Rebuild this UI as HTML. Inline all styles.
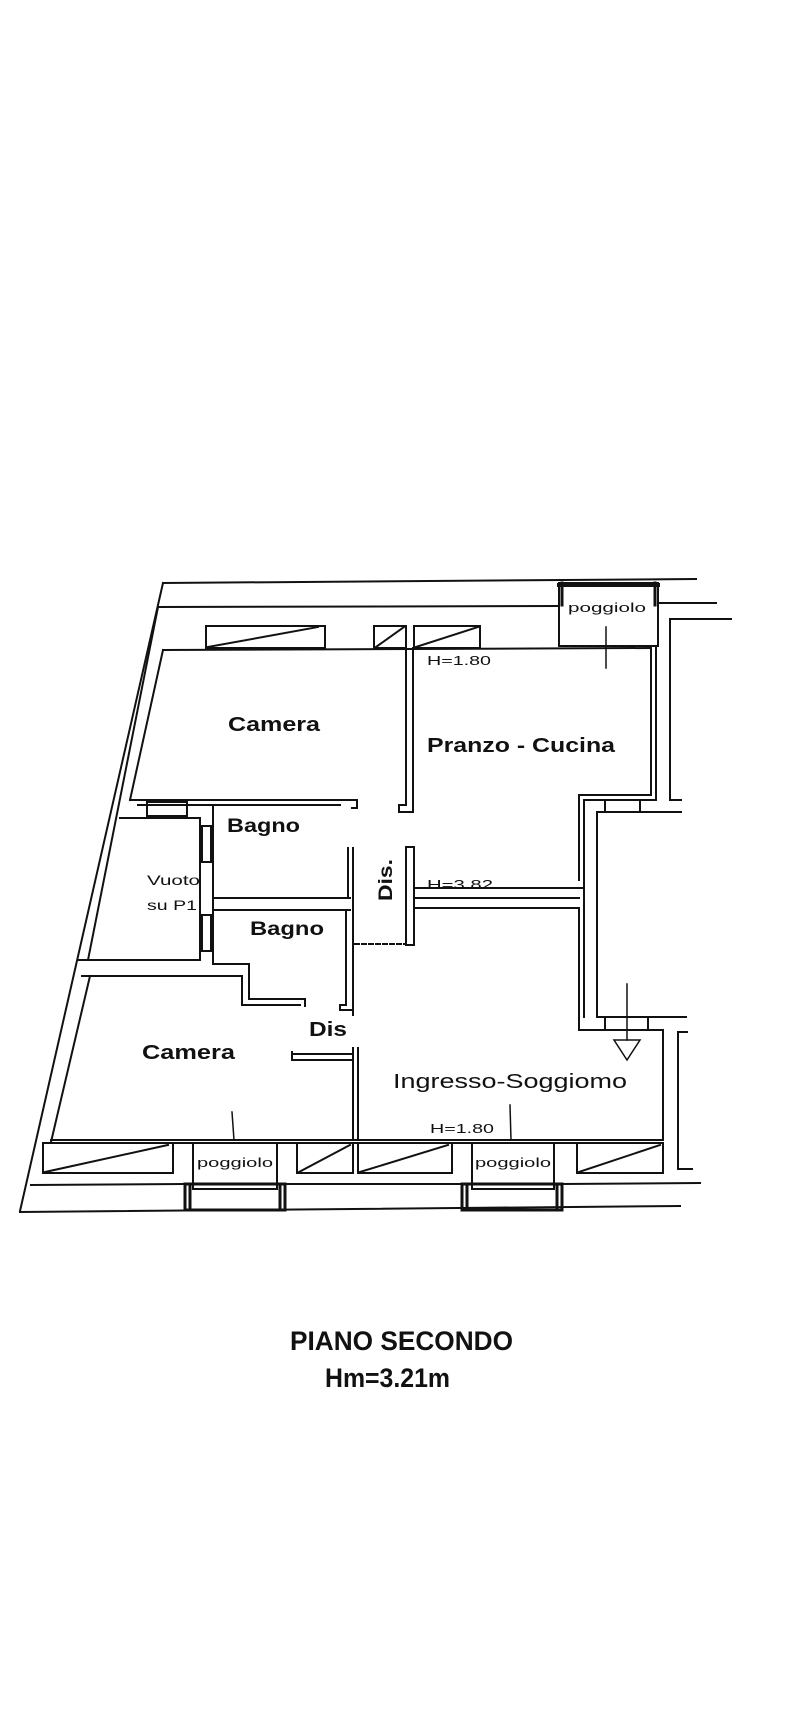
<!DOCTYPE html>
<html><head><meta charset="utf-8"><style>
html,body{margin:0;padding:0;background:#fff;}
svg{display:block;}
text{font-family:"Liberation Sans",Arial,sans-serif;fill:#111;}
</style></head><body>
<svg width="792" height="1717" viewBox="0 0 792 1717" xmlns="http://www.w3.org/2000/svg">
<g stroke="#111" stroke-width="2" fill="none" stroke-linecap="square">
<!-- top outer lines -->
<line x1="163" y1="583" x2="696" y2="579"/>
<line x1="158" y1="607" x2="559" y2="606"/>
<line x1="658" y1="603" x2="716" y2="603"/>
<!-- poggiolo top -->
<rect x="559" y="583" width="99" height="63"/>
<line x1="559" y1="585" x2="658" y2="585" stroke-width="4"/>
<line x1="562" y1="583" x2="562" y2="605" stroke-width="3"/>
<line x1="655" y1="583" x2="655" y2="605" stroke-width="3"/>
<line x1="606" y1="627" x2="606" y2="668" stroke-width="1.5"/>
<!-- right outer -->
<polyline points="731,619 670,619 670,800 681,800"/>
<!-- left wall -->
<line x1="163" y1="583" x2="20" y2="1211"/>
<line x1="158" y1="607" x2="88" y2="960"/>
<!-- top windows -->
<rect x="206" y="626" width="119" height="22"/>
<line x1="208" y1="647" x2="318" y2="627"/>
<rect x="374" y="626" width="32" height="22"/>
<line x1="376" y1="647" x2="404" y2="627"/>
<rect x="414" y="626" width="66" height="22"/>
<line x1="416" y1="647" x2="478" y2="627"/>
<!-- room top line -->
<line x1="163" y1="650" x2="651" y2="648"/>
<line x1="163" y1="650" x2="130" y2="800"/>
<!-- camera bottom wall -->
<polyline points="130,800 357,800 357,808 352,808"/>
<line x1="138" y1="805" x2="340" y2="805"/>
<!-- camera/pranzo partition -->
<line x1="406" y1="648" x2="406" y2="805"/>
<line x1="413" y1="648" x2="413" y2="812"/>
<polyline points="406,805 399,805 399,812 413,812"/>
<!-- pranzo right wall -->
<line x1="651" y1="648" x2="651" y2="795"/>
<line x1="656" y1="648" x2="656" y2="800"/>
<polyline points="656,800 584,800 584,895"/>
<polyline points="651,795 579,795 579,880"/>
<line x1="605" y1="800" x2="605" y2="812"/>
<line x1="640" y1="800" x2="640" y2="812"/>
<!-- right column -->
<polyline points="681,812 597,812 597,1017 686,1017"/>
<!-- Vuoto / Bagno1 -->
<line x1="120" y1="818" x2="200" y2="818"/>
<rect x="147" y="802" width="40" height="14"/>
<line x1="200" y1="818" x2="200" y2="960"/>
<line x1="213" y1="805" x2="213" y2="964"/>
<rect x="202" y="826" width="9" height="36"/>
<rect x="202" y="915" width="9" height="36"/>
<line x1="78" y1="960" x2="200" y2="960"/>
<line x1="213" y1="898" x2="350" y2="898"/>
<line x1="213" y1="910" x2="350" y2="910"/>
<!-- partition bagno/dis -->
<line x1="348" y1="848" x2="348" y2="898"/>
<line x1="353" y1="848" x2="353" y2="1015"/>
<line x1="346" y1="910" x2="346" y2="1005"/>
<polyline points="346,1005 340,1005 340,1010 353,1010"/>
<!-- Dis partition -->
<rect x="406" y="847" width="8" height="98"/>
<line x1="355" y1="944" x2="406" y2="944" stroke-dasharray="4,3"/>
<line x1="414" y1="888" x2="584" y2="888"/>
<line x1="414" y1="898" x2="579" y2="898"/>
<line x1="414" y1="908" x2="579" y2="908"/>
<!-- ingresso right -->
<line x1="579" y1="908" x2="579" y2="1030"/>
<polyline points="584,895 584,1017"/>
<polyline points="579,1030 663,1030 663,1140"/>
<line x1="605" y1="1017" x2="605" y2="1030"/>
<line x1="648" y1="1017" x2="648" y2="1030"/>
<polyline points="687,1032 678,1032 678,1169 692,1169"/>
<!-- arrow -->
<line x1="627" y1="984" x2="627" y2="1040" stroke-width="1.5"/>
<polygon points="614,1040 640,1040 627,1060" stroke-width="1.5"/>
<!-- Bagno2 step -->
<polyline points="213,964 249,964 249,999 305,999 305,1006"/>
<line x1="82" y1="976" x2="242" y2="976"/>
<line x1="242" y1="976" x2="242" y2="1005"/>
<line x1="242" y1="1005" x2="300" y2="1005"/>
<!-- lower camera -->
<line x1="90" y1="976" x2="51" y2="1142"/>
<polyline points="292,1052 292,1060 353,1060"/>
<line x1="292" y1="1054" x2="353" y2="1054"/>
<line x1="353" y1="1048" x2="353" y2="1140"/>
<line x1="358" y1="1048" x2="358" y2="1140"/>
<line x1="232" y1="1112" x2="234" y2="1140" stroke-width="1.5"/>
<line x1="510" y1="1105" x2="511" y2="1140" stroke-width="1.5"/>
<!-- bottom wall -->
<line x1="51" y1="1140" x2="663" y2="1140"/>
<line x1="51" y1="1143" x2="663" y2="1143"/>
<!-- bottom windows -->
<rect x="43" y="1143" width="130" height="30"/>
<line x1="45" y1="1172" x2="168" y2="1145"/>
<rect x="193" y="1143" width="84" height="46"/>
<rect x="297" y="1143" width="56" height="30"/>
<line x1="299" y1="1172" x2="350" y2="1145"/>
<rect x="358" y="1143" width="94" height="30"/>
<line x1="360" y1="1172" x2="448" y2="1145"/>
<rect x="472" y="1143" width="82" height="46"/>
<rect x="577" y="1143" width="86" height="30"/>
<line x1="579" y1="1172" x2="660" y2="1145"/>
<!-- lower lines -->
<line x1="31" y1="1185" x2="185" y2="1184"/>
<line x1="285" y1="1184" x2="462" y2="1184"/>
<line x1="562" y1="1184" x2="700" y2="1183"/>
<line x1="20" y1="1212" x2="680" y2="1206"/>
<rect x="185" y="1184" width="100" height="26" stroke-width="3"/>
<rect x="462" y="1184" width="100" height="26" stroke-width="3"/>
<line x1="190" y1="1186" x2="190" y2="1210" stroke-width="3"/>
<line x1="280" y1="1186" x2="280" y2="1210" stroke-width="3"/>
<line x1="467" y1="1186" x2="467" y2="1210" stroke-width="3"/>
<line x1="557" y1="1186" x2="557" y2="1210" stroke-width="3"/>
</g>
<g>
<text x="607" y="612" font-size="13" text-anchor="middle" textLength="78" lengthAdjust="spacingAndGlyphs">poggiolo</text>
<text x="235" y="1167" font-size="13" text-anchor="middle" textLength="76" lengthAdjust="spacingAndGlyphs">poggiolo</text>
<text x="513" y="1167" font-size="13" text-anchor="middle" textLength="76" lengthAdjust="spacingAndGlyphs">poggiolo</text>
<text x="427" y="665" font-size="13" textLength="64" lengthAdjust="spacingAndGlyphs">H=1.80</text>
<text x="427" y="889" font-size="13" textLength="66" lengthAdjust="spacingAndGlyphs">H=3.82</text>
<text x="430" y="1133" font-size="13" textLength="64" lengthAdjust="spacingAndGlyphs">H=1.80</text>
<text x="228" y="731" font-size="20" font-weight="bold" textLength="92" lengthAdjust="spacingAndGlyphs">Camera</text>
<text x="427" y="752" font-size="20" font-weight="bold" textLength="188" lengthAdjust="spacingAndGlyphs">Pranzo - Cucina</text>
<text x="227" y="832" font-size="19" font-weight="bold" textLength="73" lengthAdjust="spacingAndGlyphs">Bagno</text>
<text x="250" y="935" font-size="19" font-weight="bold" textLength="74" lengthAdjust="spacingAndGlyphs">Bagno</text>
<text x="147" y="885" font-size="14" fill="#333" textLength="53" lengthAdjust="spacingAndGlyphs">Vuoto</text>
<text x="147" y="910" font-size="14" fill="#333" textLength="50" lengthAdjust="spacingAndGlyphs">su P1</text>
<text transform="translate(392,880) rotate(-90)" font-size="19" font-weight="bold" text-anchor="middle" textLength="42" lengthAdjust="spacingAndGlyphs">Dis.</text>
<text x="309" y="1036" font-size="20" font-weight="bold" textLength="38" lengthAdjust="spacingAndGlyphs">Dis</text>
<text x="142" y="1059" font-size="20" font-weight="bold" textLength="93" lengthAdjust="spacingAndGlyphs">Camera</text>
<text x="393" y="1088" font-size="20" textLength="234" lengthAdjust="spacingAndGlyphs">Ingresso-Soggiomo</text>
<text x="290" y="1350" font-size="27" font-weight="bold" textLength="223" lengthAdjust="spacingAndGlyphs">PIANO SECONDO</text>
<text x="325" y="1387" font-size="27" font-weight="bold" textLength="125" lengthAdjust="spacingAndGlyphs">Hm=3.21m</text>
</g>
</svg>
</body></html>
